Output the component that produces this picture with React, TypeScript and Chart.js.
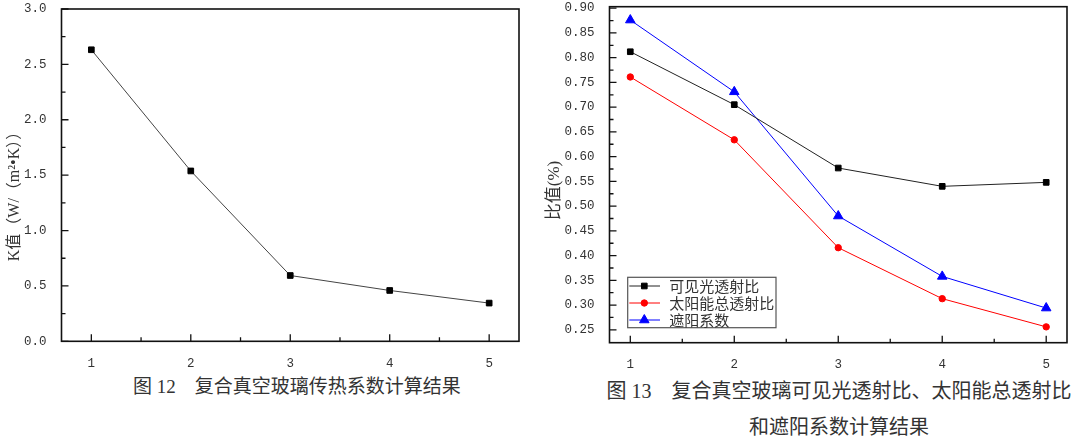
import React, { useEffect, useRef } from 'react';
import { Chart, registerables } from 'chart.js';
import { drawPoint } from 'chart.js/helpers';

Chart.register(...registerables);

// ---------- data ----------
const categories = [1, 2, 3, 4, 5];
const kValues = [2.632, 1.538, 0.594, 0.459, 0.345];
const visibleTransmittance = [0.812, 0.705, 0.577, 0.54, 0.548];
const solarTransmittance = [0.761, 0.634, 0.416, 0.313, 0.256];
const shadingCoefficient = [0.876, 0.731, 0.48, 0.358, 0.294];
const seriesNames = ['可见光透射比', '太阳能总透射比', '遮阳系数'];

const xTickValues = [1, 2, 3, 4, 5];
const xMinorTicks = [1.5, 2.5, 3.5, 4.5];
const leftYTickValues = [0, 0.5, 1.0, 1.5, 2.0, 2.5, 3.0];
const leftYMinorTicks = [0.25, 0.75, 1.25, 1.75, 2.25, 2.75];
const rightYTickValues = [0.25, 0.3, 0.35, 0.4, 0.45, 0.5, 0.55, 0.6, 0.65, 0.7, 0.75, 0.8, 0.85, 0.9];
const rightYMinorTicks = [0.275, 0.325, 0.375, 0.425, 0.475, 0.525, 0.575, 0.625, 0.675, 0.725, 0.775, 0.825, 0.875];

const leftYTitle = 'K值（W/（m²•K））';
const rightYTitle = '比值(%)';
const leftCaption = '图 12　复合真空玻璃传热系数计算结果';
const rightCaptionLines = ['图 13　复合真空玻璃可见光透射比、太阳能总透射比', '和遮阳系数计算结果'];

const TICK_FONT = { family: "'Liberation Mono', 'DejaVu Sans Mono', monospace", size: 12.5 };
const TITLE_FAMILY = "'Liberation Serif', 'Noto Sans CJK SC', serif";
const CJK_FAMILY = "'Noto Sans CJK SC', sans-serif";

// ---------- plugins ----------
const framePlugin = {
  id: 'frame',
  afterDatasetsDraw(chart: any, _args: any, opts: any) {
    const { ctx, chartArea: a, scales } = chart;
    const xs = scales.x;
    const ys = scales.y;
    ctx.save();
    ctx.strokeStyle = '#111';
    ctx.lineWidth = 1.3;
    ctx.beginPath();
    opts.xMajor.forEach((v: number) => {
      const p = xs.getPixelForValue(v);
      ctx.moveTo(p, a.bottom);
      ctx.lineTo(p, a.bottom - 7);
    });
    opts.xMinor.forEach((v: number) => {
      const p = xs.getPixelForValue(v);
      ctx.moveTo(p, a.bottom);
      ctx.lineTo(p, a.bottom - 4);
    });
    opts.yMajor.forEach((v: number) => {
      const p = ys.getPixelForValue(v);
      ctx.moveTo(a.left, p);
      ctx.lineTo(a.left + 7, p);
    });
    opts.yMinor.forEach((v: number) => {
      const p = ys.getPixelForValue(v);
      ctx.moveTo(a.left, p);
      ctx.lineTo(a.left + 4, p);
    });
    ctx.stroke();
    ctx.lineWidth = 1.6;
    ctx.strokeRect(a.left, a.top, a.right - a.left, a.bottom - a.top);

    ctx.fillStyle = '#333';
    ctx.font = opts.titleFont;
    ctx.translate(opts.titleX, opts.titleY);
    ctx.rotate(-Math.PI / 2);
    ctx.textAlign = 'center';
    ctx.textBaseline = 'middle';
    ctx.fillText(opts.title, 0, 0);
    ctx.restore();
  },
};

const boxLegendPlugin = {
  id: 'boxLegend',
  afterDraw(chart: any, _args: any, opts: any) {
    if (!opts || !opts.show) return;
    const ctx = chart.ctx;
    ctx.save();
    ctx.strokeStyle = '#555';
    ctx.lineWidth = 1.2;
    ctx.strokeRect(opts.x, opts.y, opts.w, opts.h);
    chart.data.datasets.forEach((ds: any, i: number) => {
      const cy = opts.y + opts.firstRow + i * opts.rowGap;
      ctx.strokeStyle = ds.borderColor;
      ctx.lineWidth = ds.borderWidth;
      ctx.beginPath();
      ctx.moveTo(opts.x + 1.6, cy);
      ctx.lineTo(opts.x + 32.3, cy);
      ctx.stroke();
      ctx.fillStyle = ds.pointBackgroundColor;
      ctx.strokeStyle = ds.pointBorderColor;
      ctx.lineWidth = ds.pointBorderWidth;
      drawPoint(
        ctx,
        { pointStyle: ds.pointStyle, radius: ds.pointRadius, borderWidth: ds.pointBorderWidth, rotation: 0 } as any,
        opts.x + 16.6,
        cy
      );
      ctx.fillStyle = '#333';
      ctx.font = opts.font;
      ctx.textAlign = 'left';
      ctx.textBaseline = 'middle';
      ctx.fillText(ds.label, opts.x + 41.6, cy);
    });
    ctx.restore();
  },
};

function fixedAxis(size: number, horizontal: boolean) {
  return (s: any) => {
    if (horizontal) s.height = size;
    else s.width = size;
    s.paddingLeft = 0;
    s.paddingRight = 0;
    s.paddingTop = 0;
    s.paddingBottom = 0;
  };
}

function pts(values: number[]) {
  return categories.map((c, i) => ({ x: c, y: values[i] }));
}

function leftConfig(): any {
  return {
    type: 'line',
    data: {
      datasets: [
        {
          label: 'K值',
          data: pts(kValues),
          borderColor: '#444',
          borderWidth: 1,
          pointStyle: 'rect',
          pointRadius: 4,
          pointBackgroundColor: '#000',
          pointBorderColor: '#000',
          pointBorderWidth: 1,
          fill: false,
          tension: 0,
        },
      ],
    },
    options: {
      responsive: false,
      animation: false,
      events: [],
      layout: { padding: { left: 0, top: 9, right: 21, bottom: 0 } },
      plugins: {
        legend: { display: false },
        tooltip: { enabled: false },
        frame: {
          xMajor: xTickValues,
          xMinor: xMinorTicks,
          yMajor: leftYTickValues,
          yMinor: leftYMinorTicks,
          title: leftYTitle,
          titleX: 15,
          titleY: 192.5,
          titleFont: `16px ${TITLE_FAMILY}`,
        },
      },
      scales: {
        x: {
          type: 'linear',
          min: 0.7,
          max: 5.3,
          grid: { display: false },
          border: { display: false },
          afterBuildTicks: (s: any) => {
            s.ticks = xTickValues.map((v) => ({ value: v }));
          },
          ticks: {
            autoSkip: false,
            maxRotation: 0,
            padding: 7,
            color: '#333',
            font: TICK_FONT,
            callback: (v: any) => String(v),
          },
          afterFit: fixedAxis(30.7, true),
        },
        y: {
          type: 'linear',
          min: 0,
          max: 3.0,
          grid: { display: false },
          border: { display: false },
          afterBuildTicks: (s: any) => {
            s.ticks = leftYTickValues.map((v) => ({ value: v }));
          },
          ticks: {
            autoSkip: false,
            padding: 7,
            color: '#333',
            font: TICK_FONT,
            callback: (v: any) => Number(v).toFixed(1),
          },
          afterFit: fixedAxis(61.5, false),
        },
      },
    },
    plugins: [framePlugin],
  };
}

function rightConfig(): any {
  return {
    type: 'line',
    data: {
      datasets: [
        {
          label: seriesNames[0],
          data: pts(visibleTransmittance),
          borderColor: '#222',
          borderWidth: 1,
          pointStyle: 'rect',
          pointRadius: 4,
          pointBackgroundColor: '#000',
          pointBorderColor: '#000',
          pointBorderWidth: 1,
          fill: false,
          tension: 0,
        },
        {
          label: seriesNames[1],
          data: pts(solarTransmittance),
          borderColor: '#ff0000',
          borderWidth: 1,
          pointStyle: 'circle',
          pointRadius: 3.2,
          pointBackgroundColor: '#ff0000',
          pointBorderColor: '#ff0000',
          pointBorderWidth: 1,
          fill: false,
          tension: 0,
        },
        {
          label: seriesNames[2],
          data: pts(shadingCoefficient),
          borderColor: '#0000ff',
          borderWidth: 1,
          pointStyle: 'triangle',
          pointRadius: 5.5,
          pointBackgroundColor: '#0000ff',
          pointBorderColor: '#0000ff',
          pointBorderWidth: 1,
          fill: false,
          tension: 0,
        },
      ],
    },
    options: {
      responsive: false,
      animation: false,
      events: [],
      layout: { padding: { left: 0, top: 6.7, right: 13, bottom: 0 } },
      plugins: {
        legend: { display: false },
        tooltip: { enabled: false },
        frame: {
          xMajor: xTickValues,
          xMinor: xMinorTicks,
          yMajor: rightYTickValues,
          yMinor: rightYMinorTicks,
          title: rightYTitle,
          titleX: 15,
          titleY: 190.5,
          titleFont: `17px ${TITLE_FAMILY}`,
        },
        boxLegend: {
          show: true,
          x: 87.7,
          y: 277.3,
          w: 148.3,
          h: 50.4,
          firstRow: 8.7,
          rowGap: 17,
          font: `15px ${CJK_FAMILY}`,
        },
      },
      scales: {
        x: {
          type: 'linear',
          min: 0.8,
          max: 5.2,
          grid: { display: false },
          border: { display: false },
          afterBuildTicks: (s: any) => {
            s.ticks = xTickValues.map((v) => ({ value: v }));
          },
          ticks: {
            autoSkip: false,
            maxRotation: 0,
            padding: 6,
            color: '#333',
            font: TICK_FONT,
            callback: (v: any) => String(v),
          },
          afterFit: fixedAxis(29.3, true),
        },
        y: {
          type: 'linear',
          min: 0.224,
          max: 0.903,
          grid: { display: false },
          border: { display: false },
          afterBuildTicks: (s: any) => {
            s.ticks = rightYTickValues.map((v) => ({ value: v }));
          },
          ticks: {
            autoSkip: false,
            padding: 7,
            color: '#333',
            font: TICK_FONT,
            callback: (v: any) => Number(v).toFixed(2),
          },
          afterFit: fixedAxis(69.5, false),
        },
      },
    },
    plugins: [framePlugin, boxLegendPlugin],
  };
}

export default function App() {
  const leftRef = useRef<HTMLCanvasElement>(null);
  const rightRef = useRef<HTMLCanvasElement>(null);

  useEffect(() => {
    const left = new Chart(leftRef.current as HTMLCanvasElement, leftConfig());
    const right = new Chart(rightRef.current as HTMLCanvasElement, rightConfig());
    return () => {
      left.destroy();
      right.destroy();
    };
  }, []);

  const captionStyle: React.CSSProperties = {
    position: 'absolute',
    fontFamily: TITLE_FAMILY,
    color: '#333',
    whiteSpace: 'pre',
  };

  return (
    <div
      style={{
        position: 'absolute',
        left: 0,
        top: 0,
        width: 1080,
        height: 441,
        background: '#fff',
        overflow: 'hidden',
      }}
    >
      <canvas
        ref={leftRef}
        width={540}
        height={372}
        style={{ position: 'absolute', left: 0, top: 0, width: 540, height: 372 }}
      />
      <canvas
        ref={rightRef}
        width={540}
        height={372}
        style={{ position: 'absolute', left: 540, top: 0, width: 540, height: 372 }}
      />
      <div style={{ ...captionStyle, left: 133, top: 375, fontSize: 19, lineHeight: '24px' }}>{leftCaption}</div>
      <div
        style={{
          ...captionStyle,
          left: 539,
          top: 372.6,
          width: 600,
          textAlign: 'center',
          fontSize: 20,
          lineHeight: '36.5px',
        }}
      >
        {rightCaptionLines[0]}
        {'\n'}
        {rightCaptionLines[1]}
      </div>
    </div>
  );
}
